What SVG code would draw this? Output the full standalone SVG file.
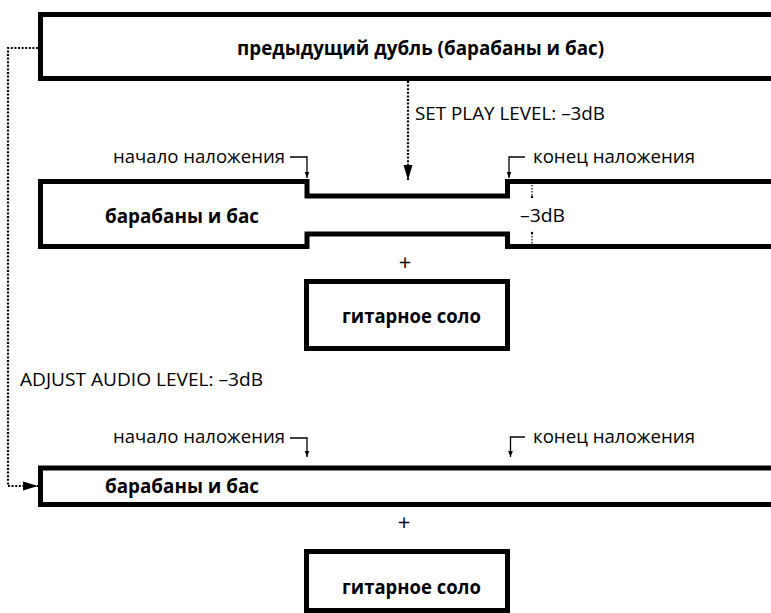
<svg xmlns="http://www.w3.org/2000/svg" width="771" height="613" viewBox="0 0 771 613">
<defs>
<style>
.box{fill:#fff;stroke:#000;stroke-width:5;}
.open{fill:none;stroke:#000;stroke-width:5;}
.b{font-family:"Open Sans","Noto Sans",sans-serif;font-weight:bold;font-size:19.5px;fill:#000;}
.r{font-family:"Open Sans","Noto Sans",sans-serif;font-size:18.5px;fill:#000;}
.plus{font-family:"Open Sans","Noto Sans",sans-serif;font-size:22px;fill:#000;}
.dot{fill:none;stroke:#000;stroke-width:2.2;stroke-dasharray:2 1.6;}
.thin{fill:none;stroke:#000;stroke-width:1.3;}
.tdot{fill:none;stroke:#000;stroke-width:1.2;stroke-dasharray:1.5 1.5;}
</style>
<marker id="big" markerWidth="16" markerHeight="10" refX="15" refY="5" orient="auto" markerUnits="userSpaceOnUse">
<path d="M0,0.5 L15,5 L0,9.5 Z" fill="#000"/>
</marker>
<marker id="small" markerWidth="7" markerHeight="6" refX="6.5" refY="2.5" orient="auto" markerUnits="userSpaceOnUse">
<path d="M0,0 L6.5,2.5 L0,5 Z" fill="#000"/>
</marker>
</defs>

<g id="prev-take">
<rect class="box" x="40.5" y="14.5" width="740" height="64"/>
<text class="b" x="237" y="55" textLength="367" lengthAdjust="spacingAndGlyphs">предыдущий дубль (барабаны и бас)</text>
</g>

<g id="drums-bass-1">
<path class="open" d="M780,181.5 H507.5 V196 H307 V181.5 H40.5 V246.5 H307 V234 H507.5 V246.5 H780" fill="#fff"/>
<text class="b" x="105" y="223" textLength="154" lengthAdjust="spacingAndGlyphs">барабаны и бас</text>
</g>

<g id="guitar-1">
<rect class="box" x="306.5" y="281.5" width="201" height="67"/>
<text class="b" x="342" y="323" textLength="139" lengthAdjust="spacingAndGlyphs">гитарное соло</text>
</g>

<g id="drums-bass-2">
<rect class="box" x="40.5" y="468" width="740" height="36.5"/>
<text class="b" x="105" y="493" textLength="154" lengthAdjust="spacingAndGlyphs">барабаны и бас</text>
</g>

<g id="guitar-2">
<rect class="box" x="306.5" y="551.5" width="201" height="59"/>
<text class="b" x="342" y="594" textLength="139" lengthAdjust="spacingAndGlyphs">гитарное соло</text>
</g>

<g id="labels">
<text class="r" x="415" y="120" textLength="190" lengthAdjust="spacingAndGlyphs">SET PLAY LEVEL: –3dB</text>
<text class="r" x="113" y="163" textLength="172" lengthAdjust="spacingAndGlyphs">начало наложения</text>
<text class="r" x="533" y="163" textLength="162" lengthAdjust="spacingAndGlyphs">конец наложения</text>
<text class="r" x="520" y="222" textLength="45" lengthAdjust="spacingAndGlyphs">–3dB</text>
<text class="plus" x="405" y="270" text-anchor="middle">+</text>
<text class="r" x="20" y="386" textLength="243" lengthAdjust="spacingAndGlyphs">ADJUST AUDIO LEVEL: –3dB</text>
<text class="r" x="113" y="443" textLength="172" lengthAdjust="spacingAndGlyphs">начало наложения</text>
<text class="r" x="533" y="443" textLength="162" lengthAdjust="spacingAndGlyphs">конец наложения</text>
<text class="plus" x="404" y="530" text-anchor="middle">+</text>
</g>

<g id="connectors">
<path class="dot" d="M38,48 H8 V486 H38" marker-end="url(#big)"/>
<path class="dot" d="M408,81 V180" marker-end="url(#big)"/>
<path class="thin" d="M290,157 H307 V178" marker-end="url(#small)"/>
<path class="thin" d="M525,157 H509 V178" marker-end="url(#small)"/>
<path class="thin" d="M290,438 H307 V457" marker-end="url(#small)"/>
<path class="thin" d="M525,437 H510.5 V457" marker-end="url(#small)"/>
<path class="tdot" d="M532,185 V197"/>
<circle cx="532" cy="197" r="1.2" fill="#000"/>
<path class="tdot" d="M532,233 V245"/>
<circle cx="532" cy="233" r="1.2" fill="#000"/>
</g>
</svg>
